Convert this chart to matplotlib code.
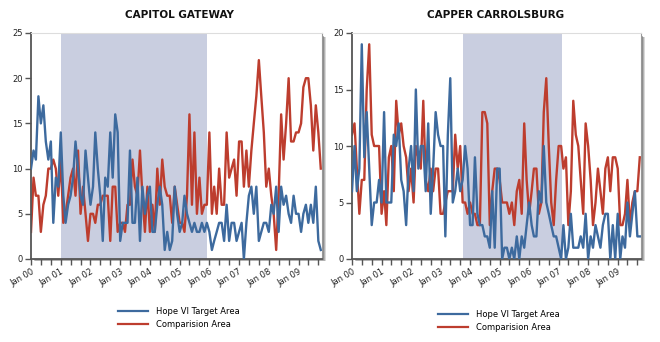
import matplotlib
matplotlib.use("Agg")
import matplotlib.pyplot as plt
import matplotlib.dates as mdates
from matplotlib.patches import Rectangle
from matplotlib.lines import Line2D
import pandas as pd

# monthly counts, Jan 2000 onwards
months = pd.date_range("2000-01-01", periods=118, freq="MS")

gateway_hope = [10, 12, 11, 18, 15, 17, 13, 11, 13, 4, 9, 8,
                14, 7, 4, 6, 7, 9, 13, 10, 7, 6, 12, 9,
                6, 8, 14, 10, 7, 2, 9, 8, 14, 9, 16, 14,
                2, 4, 4, 4, 12, 4, 4, 9, 2, 8, 5, 7,
                8, 3, 3, 6, 8, 6, 1, 3, 1, 2, 8, 5,
                3, 4, 7, 5, 4, 3, 4, 3, 3, 4, 3, 4,
                3, 1, 2, 3, 4, 4, 2, 6, 2, 4, 4, 2,
                3, 4, 0, 4, 7, 8, 5, 8, 2, 3, 4, 4,
                3, 6, 5, 8, 3, 8, 6, 7, 5, 4, 7, 5,
                5, 3, 5, 6, 4, 6, 4, 8, 2, 1]
gateway_comp = [3, 9, 7, 7, 3, 6, 7, 10, 10, 11, 10, 7,
                11, 4, 5, 7, 9, 10, 7, 12, 5, 8, 5, 2,
                5, 5, 4, 6, 6, 7, 7, 7, 2, 8, 8, 3,
                4, 4, 3, 6, 6, 11, 8, 7, 12, 7, 3, 8,
                3, 6, 3, 10, 6, 11, 8, 7, 7, 4, 8, 6,
                4, 4, 3, 7, 16, 6, 14, 5, 9, 5, 6, 6,
                14, 5, 8, 5, 10, 6, 6, 14, 9, 10, 11, 7,
                13, 13, 8, 12, 8, 12, 15, 18, 22, 18, 14, 8,
                10, 7, 5, 1, 7, 16, 11, 15, 20, 13, 13, 14,
                14, 15, 19, 20, 20, 17, 12, 17, 14, 10]

capper_hope = [6, 10, 6, 8, 19, 9, 13, 8, 3, 5, 5, 7,
               5, 13, 5, 5, 5, 11, 10, 12, 7, 6, 3, 8,
               10, 6, 15, 8, 10, 10, 6, 12, 4, 8, 13, 11,
               10, 10, 2, 11, 16, 5, 6, 8, 6, 7, 10, 8,
               3, 3, 9, 4, 3, 3, 2, 2, 1, 6, 1, 8,
               8, 0, 1, 1, 0, 1, 0, 2, 0, 2, 1, 3,
               5, 3, 2, 2, 6, 5, 10, 5, 4, 3, 2, 2,
               1, 0, 3, 0, 1, 4, 1, 1, 1, 2, 1, 4,
               0, 2, 1, 3, 2, 1, 3, 4, 4, 0, 3, 0,
               4, 0, 2, 1, 5, 2, 4, 6, 2, 2]
capper_comp = [11, 12, 8, 4, 7, 7, 15, 19, 11, 10, 10, 10,
               4, 6, 3, 9, 10, 6, 14, 11, 12, 10, 9, 6,
               8, 5, 10, 9, 8, 14, 7, 6, 8, 6, 8, 8,
               4, 4, 5, 6, 6, 6, 11, 8, 10, 5, 5, 4,
               5, 4, 4, 3, 3, 13, 13, 12, 3, 6, 8, 8,
               7, 5, 5, 5, 4, 5, 3, 6, 7, 4, 12, 7,
               4, 6, 8, 8, 4, 5, 13, 16, 10, 5, 3, 7,
               10, 10, 8, 9, 3, 6, 14, 11, 10, 7, 4, 12,
               10, 7, 3, 5, 8, 6, 4, 8, 9, 6, 9, 9,
               8, 3, 3, 4, 7, 3, 5, 6, 6, 9]

titles = ["CAPITOL GATEWAY", "CAPPER CARROLSBURG"]
series_labels = ["Hope VI Target Area", "Comparision Area"]
shade_spans = [("2001-01-01", "2005-12-05"), ("2003-10-05", "2007-02-15")]
y_tops = [25, 20]

BLUE = "#3d6a9e"
RED = "#bd3d2e"
SHADE = "#c9cee0"
AXIS = "#555555"
FONT = ["Liberation Sans Narrow", "DejaVu Sans"]

fig = plt.figure(figsize=(6.6, 3.42), dpi=100)
W, H = 660.0, 342.0

boxes = [(31, 33, 322, 259), (352, 33, 641, 259)]
title_x = [179, 496]
legend_pos = [(118, 307), (438, 310)]
data = [(gateway_hope, gateway_comp), (capper_hope, capper_comp)]

for i in range(2):
    x0, y0, x1, y1 = boxes[i]
    ax = fig.add_axes([x0 / W, 1 - y1 / H, (x1 - x0) / W, (y1 - y0) / H])

    # drop shadow behind the panel
    for k, a in zip([4, 3, 2], [0.25, 0.35, 0.5]):
        fig.add_artist(Rectangle(((x0 + k) / W, 1 - (y1 + k * 0.5) / H),
                                 (x1 - x0) / W, (y1 - y0 - 2) / H,
                                 transform=fig.transFigure, facecolor="#6a6a6a",
                                 alpha=a, edgecolor="none", zorder=-1))

    hope, comp = data[i]
    ax.axvspan(pd.Timestamp(shade_spans[i][0]), pd.Timestamp(shade_spans[i][1]),
               color=SHADE, lw=0, zorder=0)
    ax.plot(months, comp, color=RED, lw=1.7, zorder=2)
    ax.plot(months, hope, color=BLUE, lw=1.7, zorder=3)

    ax.set_xlim(months[0], months[-1] + pd.Timedelta(days=15))
    ax.set_ylim(0, y_tops[i])
    ax.set_yticks(range(0, y_tops[i] + 1, 5))

    ax.xaxis.set_major_locator(mdates.MonthLocator(bymonth=1))
    ax.xaxis.set_minor_locator(mdates.MonthLocator(bymonth=[5, 9]))
    ax.xaxis.set_major_formatter(mdates.DateFormatter("%b %y"))

    for s in ["left", "bottom"]:
        ax.spines[s].set_color(AXIS)
        ax.spines[s].set_linewidth(1.3)
    ax.spines["top"].set_color("#dddddd")
    ax.spines["top"].set_linewidth(0.8)
    ax.spines["right"].set_color("#999999")
    ax.spines["right"].set_linewidth(0.8)

    ax.tick_params(axis="both", which="both", direction="out", length=4,
                   width=1.0, color=AXIS, labelsize=6, labelcolor="#222222", pad=2)
    for lab in ax.get_xticklabels():
        lab.set_rotation(30)
        lab.set_ha("right")
        lab.set_rotation_mode("anchor")
        lab.set_family(FONT)
    for lab in ax.get_yticklabels():
        lab.set_family(FONT)

    fig.text(title_x[i] / W, 1 - 15 / H, titles[i], ha="center", va="center",
             fontsize=7.5, fontweight="bold", family=FONT, color="#111111")

    handles = [Line2D([], [], color=BLUE, lw=1.6), Line2D([], [], color=RED, lw=1.6)]
    lx, ly = legend_pos[i]
    fig.legend(handles, series_labels, loc="upper left",
               bbox_to_anchor=(lx / W, 1 - ly / H), frameon=False,
               prop={"family": FONT, "size": 6}, handlelength=3.6,
               handletextpad=0.9, labelspacing=0.45, borderpad=0, borderaxespad=0)

fig.savefig("out.png", dpi=100)
